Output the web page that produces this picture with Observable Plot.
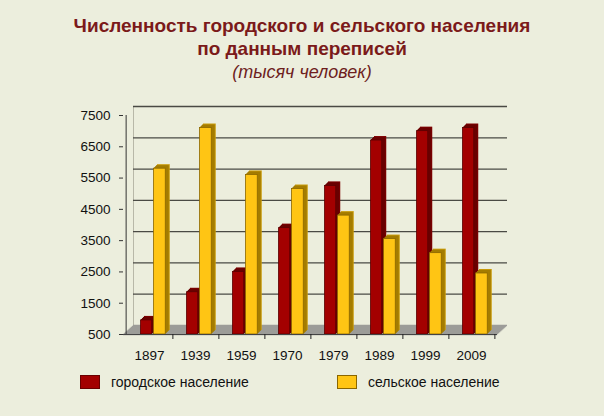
<!DOCTYPE html>
<html><head><meta charset="utf-8">
<script src="https://cdn.jsdelivr.net/npm/d3@7"></script>
<script src="https://cdn.jsdelivr.net/npm/@observablehq/plot@0.6"></script>
<style>
body{margin:0;background:#eceedd;font-family:"Liberation Sans",Arial,sans-serif;}
#wrap{position:relative;width:604px;height:416px;overflow:hidden;background:#eceedd}
#title{position:absolute;left:0;top:15px;width:604px;text-align:center;color:#7b1a1a;font-size:19px;line-height:22.5px}
#title .b{font-weight:bold}
#title .i{font-style:italic;font-size:18px;color:#6e1e1e;margin-top:1px}
#chart{position:absolute;left:0;top:0}
.leg{position:absolute;top:374px;font-size:14px;color:#111;display:flex;align-items:center}
.sw{width:18px;height:12px;margin-right:11px;border:1px solid}
</style></head>
<body><div id="wrap">
<div id="title"><div class="b">Численность городского и сельского населения</div><div class="b">по данным переписей</div><div class="i">(тысяч человек)</div></div>
<div id="chart"></div>
<div class="leg" style="left:80px"><span class="sw" style="background:#a30000;border-color:#6a0000"></span><span id="l0"></span></div>
<div class="leg" style="left:337px"><span class="sw" style="background:#ffc514;border-color:#8a6600"></span><span id="l1"></span></div>
</div>
<script>
const years = ["1897","1939","1959","1970","1979","1989","1999","2009"];
const urban = [950,1850,2500,3900,5250,6700,7000,7100];
const rural = [5800,7100,5600,5150,4300,3550,3100,2450];
const yTicks = [500,1500,2500,3500,4500,5500,6500,7500];
const seriesNames = ["городское население","сельское население"];
const BASE = 500;

document.getElementById("l0").textContent = seriesNames[0];
document.getElementById("l1").textContent = seriesNames[1];

const W = 604, H = 416, mL = 123, mR = 107, mT = 115, mB = 82;
const bw = (W - mL - mR) / years.length;
const urbanData = years.map((y, i) => ({year: y, v: urban[i]}));
const ruralData = years.map((y, i) => ({year: y, v: rural[i]}));

const depthX = 4, wallX = 10, wallY = 9;
const marks = [];
// back wall left edge
marks.push(Plot.frame({anchor: "left", dx: wallX, dy: -wallY, stroke: "#b8b8a8"}));
// gridlines on back wall
marks.push(Plot.ruleY(yTicks.filter(t => t > BASE), {dx: wallX, dy: -wallY, stroke: "#4a4a44", strokeWidth: 1.3}));
// floor
for (let i = 0; i <= wallY; i++) {
  marks.push(Plot.ruleY([BASE], {dx: i * wallX / wallY, dy: -i, stroke: "#9c9c98", strokeWidth: 1.5}));
}
function series(data, x0, x1, side, top, front, edge) {
  for (let i = depthX; i >= 1; i--) {
    marks.push(Plot.barY(data, {x: "year", y1: BASE, y2: "v", insetLeft: x0, insetRight: bw - x1,
      dx: i, dy: -i, fill: i === depthX ? top : side}));
  }
  marks.push(Plot.barY(data, {x: "year", y1: BASE, y2: "v", insetLeft: x0 + 0.5, insetRight: bw - x1 + 0.5,
    fill: front, stroke: edge, strokeWidth: 0.8}));
}
series(urbanData, 14, 27, "#6a0000", "#7e0000", "#a30000", "#5a0000");
series(ruralData, 27, 40.5, "#a47c00", "#c89a08", "#ffc514", "#8a6600");

// front axes
marks.push(Plot.ruleX([0], {x: () => years[0], dx: -bw / 2, y1: BASE, y2: 7500, stroke: "#333"}));
marks.push(Plot.axisY({ticks: yTicks, tickFormat: d => String(d), tickSize: 4, tickPadding: 9, fontSize: 13.5, color: "#111", stroke: "#333"}));
marks.push(Plot.ruleY([BASE], {stroke: "#444", strokeWidth: 1}));
marks.push(Plot.axisX({tickSize: 5, dx: bw / 2, text: null, stroke: "#222"}));
marks.push(Plot.axisX({tickSize: 0, tickPadding: 16, fontSize: 13.5, color: "#111"}));

const plot = Plot.plot({
  width: W, height: H,
  marginLeft: mL, marginRight: mR, marginTop: mT, marginBottom: mB,
  style: {background: "transparent", fontFamily: "'Liberation Sans', Arial, sans-serif"},
  x: {type: "band", domain: years, padding: 0, label: null},
  y: {domain: [BASE, 7500], label: null},
  marks
});
document.getElementById("chart").append(plot);
</script>
</body></html>
